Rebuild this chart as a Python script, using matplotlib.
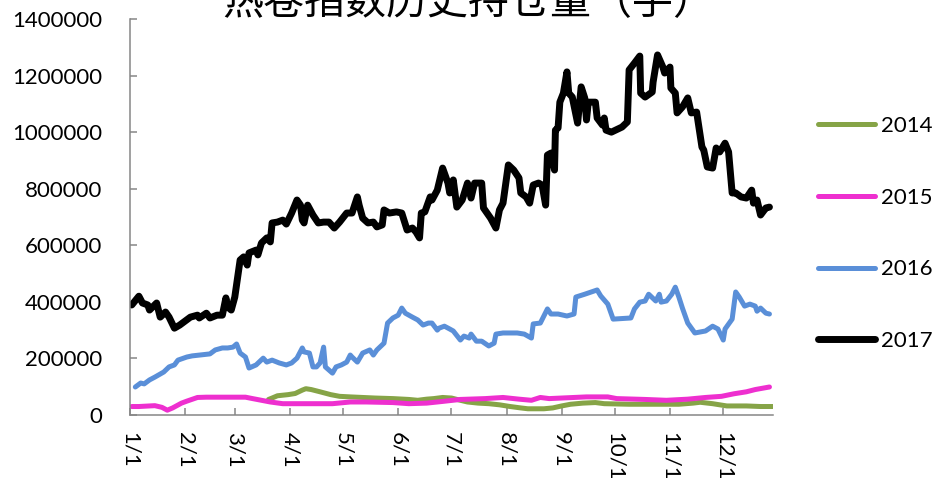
import matplotlib
matplotlib.use('Agg')
import matplotlib.pyplot as plt
import numpy as np

plt.rcParams['font.family'] = ['Lato', 'DejaVu Sans']

title = '热卷指数历史持仓量（手）'
month_ticks = [0, 31, 59, 90, 120, 151, 181, 212, 243, 273, 304, 334]
month_labels = ['1/1', '2/1', '3/1', '4/1', '5/1', '6/1', '7/1', '8/1', '9/1', '10/1', '11/1', '12/1']
y_ticks = [0, 200000, 400000, 600000, 800000, 1000000, 1200000, 1400000]
series_names = ['2014', '2015', '2016', '2017']
series_colors = ['#86A447', '#EE2FCF', '#5A8FD8', '#000000']
series_widths = [3.6, 3.6, 3.6, 5.0]

# day of year, open interest (thousand lots)
days_2014 = [78, 80, 83, 89, 93, 97, 99, 102, 107, 113, 118, 124, 131, 138, 148, 157, 162, 167, 171, 176,
             181, 186, 190, 196, 202, 208, 214, 220, 224, 233, 238, 243, 248, 255, 262, 267, 281, 295, 309,
             317, 321, 328, 336, 347, 355, 362]
oi_2014 = [55, 60, 68, 72, 76, 88, 93, 90, 82, 72, 66, 64, 62, 60, 58, 55, 52, 56, 58, 62,
           60, 52, 46, 42, 40, 36, 30, 25, 22, 22, 25, 32, 38, 42, 44, 40, 38, 38, 38,
           42, 45, 40, 32, 32, 30, 30]

days_2015 = [1, 5, 14, 18, 21, 24, 29, 32, 38, 43, 65, 69, 74, 79, 86, 95, 114, 124, 133, 148, 157, 167,
             176, 186, 200, 210, 219, 226, 231, 236, 250, 257, 269, 274, 290, 302, 314, 324, 333, 340,
             347, 352, 360]
oi_2015 = [30, 30, 33, 27, 17, 25, 42, 49, 62, 63, 63, 58, 52, 46, 40, 40, 40, 46, 46, 44, 40, 42,
           48, 55, 58, 62, 56, 52, 62, 58, 62, 64, 64, 58, 55, 52, 56, 62, 66, 75,
           82, 90, 99]

days_2016 = [3, 6, 8, 11, 14, 19, 22, 25, 27, 32, 35, 45, 48, 52, 55, 58, 60, 62, 65, 67, 71, 75, 77, 80,
             84, 88, 91, 94, 97, 98, 101, 103, 105, 107, 109, 110, 112, 114, 116, 119, 122, 124, 125,
             128, 131, 135, 137, 139, 143, 145, 148, 151, 153, 155, 159, 162, 165, 168, 170, 173, 174,
             177, 180, 182, 186, 188, 191, 192, 195, 198, 202, 205, 206, 210, 214, 218, 222, 226, 227,
             231, 235, 237, 241, 246, 250, 251, 256, 263, 265, 269, 272, 282, 284, 287, 290, 292, 296,
             298, 299, 302, 305, 307, 309, 311, 314, 318, 324, 328, 331, 334, 335, 339, 341, 343, 346,
             349, 352, 353, 355, 358, 360]
oi_2016 = [99, 113, 110, 124, 134, 152, 170, 177, 194, 205, 209, 216, 230, 237, 237, 240, 251, 219, 205,
           166, 177, 201, 187, 194, 184, 177, 184, 201, 237, 223, 219, 170, 170, 184, 240, 170, 159, 148,
           170, 177, 187, 212, 205, 187, 219, 230, 212, 230, 254, 325, 343, 353, 378, 360, 346, 336, 318,
           325, 325, 300, 307, 314, 304, 297, 265, 279, 272, 286, 261, 261, 244, 254, 286, 290, 290, 290,
           286, 272, 322, 325, 375, 357, 357, 350, 357, 417, 427, 442, 421, 392, 339, 343, 375, 399, 403,
           427, 403, 427, 399, 403, 427, 452, 417, 378, 325, 290, 297, 314, 304, 265, 304, 339, 435, 417,
           385, 392, 385, 367, 378, 360, 357]

days_2017 = [1, 5, 7, 10, 11, 15, 17, 20, 22, 25, 28, 34, 38, 39, 43, 45, 49, 52, 54, 55, 57, 59, 62, 64,
             66, 67, 71, 72, 74, 77, 79, 80, 83, 86, 88, 91, 94, 96, 97, 98, 100, 103, 106, 109, 112, 115,
             118, 122, 125, 128, 129, 131, 134, 137, 139, 142, 143, 146, 150, 153, 156, 159, 161, 163, 164,
             166, 169, 170, 173, 176, 179, 180, 182, 184, 187, 190, 192, 194, 198, 199, 203, 206, 208, 210,
             213, 216, 219, 220, 223, 225, 227, 230, 232, 234, 235, 237, 239, 239.5, 241, 242, 244, 246,
             247, 249, 252, 254, 256, 257, 258, 262, 263, 266, 267, 268, 271, 277, 280, 281, 284, 287,
             287.5, 290, 294, 294.5, 297, 300, 301, 304, 304.5, 307, 308, 311, 314, 316, 319, 322, 323,
             325, 328, 330, 332, 335, 337, 339, 341, 344, 347, 350, 351, 353, 355, 358, 360]
oi_2017 = [389, 420, 396, 389, 371, 396, 346, 364, 346, 307, 318, 346, 353, 343, 360, 343, 353, 353, 414,
           382, 371, 417, 548, 559, 530, 573, 583, 566, 608, 626, 612, 679, 682, 689, 675, 714, 760, 742,
           689, 679, 742, 707, 679, 682, 682, 661, 682, 714, 714, 771, 742, 696, 679, 682, 665, 672, 725,
           714, 718, 714, 654, 661, 647, 626, 714, 718, 771, 760, 795, 873, 820, 785, 831, 735, 760, 820,
           767, 820, 820, 732, 696, 661, 725, 749, 884, 866, 838, 785, 771, 749, 813, 820, 813, 742, 919,
           926, 866, 1007, 1015, 1106, 1138, 1213, 1138, 1124, 1032, 1160, 1121, 1043, 1106, 1106, 1050,
           1025, 1050, 1007, 1000, 1018, 1036, 1220, 1244, 1269, 1138, 1124, 1142, 1177, 1273, 1230, 1209,
           1230, 1156, 1138, 1068, 1089, 1121, 1068, 1071, 947, 937, 877, 873, 944, 930, 961, 930, 785,
           785, 771, 767, 795, 749, 760, 707, 732, 735]

all_days = [days_2014, days_2015, days_2016, days_2017]
all_oi = [oi_2014, oi_2015, oi_2016, oi_2017]

W, H = 937, 484
fig = plt.figure(figsize=(W / 100, H / 100), dpi=100)
ax = fig.add_axes([130 / W, 1 - 415 / H, (773 - 130) / W, (415 - 19) / H])

handles = []
for d, v, name, c, lw in zip(all_days, all_oi, series_names, series_colors, series_widths):
    ln, = ax.plot(d, np.array(v) * 1000, color=c, lw=lw, label=name,
                  solid_capstyle='round', solid_joinstyle='round')
    handles.append(ln)

ax.set_xlim(0, 362)
ax.set_ylim(0, 1400000)
ax.set_xticks(month_ticks)
ax.set_xticklabels(month_labels, rotation=-90)
ax.set_yticks(y_ticks)
ax.set_yticklabels([str(t) for t in y_ticks])

for s in ['top', 'right']:
    ax.spines[s].set_visible(False)
for s in ['left', 'bottom']:
    ax.spines[s].set_color('#868686')
    ax.spines[s].set_linewidth(1.1)

ax.tick_params(axis='both', direction='in', length=5, width=1.1, color='#868686', labelsize=16)
ax.tick_params(axis='y', pad=20)
ax.tick_params(axis='x', pad=12)

fig.legend(handles, series_names, loc='center left', bbox_to_anchor=(818 / W, 1 - 233.5 / H),
           frameon=False, handlelength=2.57, handletextpad=0.25, labelspacing=2.33,
           borderpad=0, borderaxespad=0, fontsize=16)

fig.text(0.5, 1 - 3 / H, title, ha='center', va='center', fontsize=29.5,
         family=['Noto Sans CJK SC', 'DejaVu Sans'])

fig.savefig('out.png', dpi=100)
